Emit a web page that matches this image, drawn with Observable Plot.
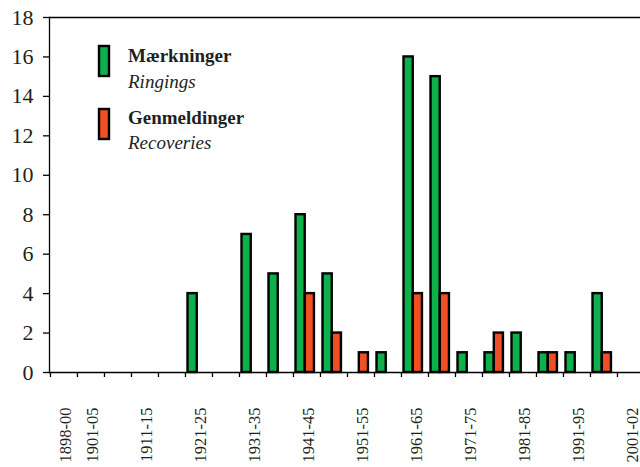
<!DOCTYPE html>
<html>
<head>
<meta charset="utf-8">
<script src="https://cdn.jsdelivr.net/npm/d3@7"></script>
<script src="https://cdn.jsdelivr.net/npm/@observablehq/plot@0.6"></script>
<style>
  html, body { margin: 0; padding: 0; background: #fff; }
  #chart { width: 640px; height: 467px; }
</style>
</head>
<body>
<div id="chart"></div>
<script>
// ---- data ----
const categories = ["1898-00","1901-05","1906-10","1911-15","1916-20","1921-25","1926-30","1931-35","1936-40","1941-45","1946-50","1951-55","1956-60","1961-65","1966-70","1971-75","1976-80","1981-85","1986-90","1991-95","1996-00","2001-02"];
const ringings   = [0,0,0,0,0,4,0,7,5,8,5,0,1,16,15,1,1,2,1,1,4,0];
const recoveries = [0,0,0,0,0,0,0,0,0,4,2,1,0,4,4,0,2,0,1,0,1,0];
const seriesNames   = ["Mærkninger", "Genmeldinger"];
const seriesNamesEn = ["Ringings", "Recoveries"];
const yTicks = [0,2,4,6,8,10,12,14,16,18];
const labelTicks = categories.filter((c, i) => i === 0 || i % 2 === 1);

// ---- style ----
const GREEN = "#0DB04B", RED = "#F04E23", INK = "#231F20";
const FONT = "'Liberation Serif', 'Times New Roman', serif";
const x0 = 49, x1 = 644.3;
const bw = (x1 - x0) / categories.length;

const greenData = categories.map((c, i) => ({period: c, value: ringings[i]})).filter(d => d.value > 0);
const redData = categories.map((c, i) => ({period: c, value: recoveries[i]})).filter(d => d.value > 0);

const plot = Plot.plot({
  width: 640,
  height: 467,
  marginLeft: 49,
  marginRight: 0,
  marginTop: 17,
  marginBottom: 95,
  style: {fontFamily: FONT, color: INK, background: "white"},
  x: {type: "band", domain: categories, range: [x0, x1], padding: 0},
  y: {domain: [0, 18]},
  marks: [
    Plot.barY(greenData, {x: "period", y: "value", fill: GREEN, stroke: "#000", strokeWidth: 2.4,
      insetLeft: 2.5, insetRight: bw - 11.8}),
    Plot.barY(redData, {x: "period", y: "value", fill: RED, stroke: "#000", strokeWidth: 2.4,
      insetLeft: 11.8, insetRight: bw - 21}),
    Plot.axisY({ticks: yTicks, tickSize: 6, tickPadding: 10, fontSize: 22, stroke: "#000", strokeWidth: 1.3, label: null, color: INK}),
    Plot.axisX({tickSize: 5, tickFormat: () => "", dx: -bw / 2, label: null, stroke: "#000", strokeWidth: 1.3}),
    Plot.axisX({ticks: labelTicks, tickSize: 0, tickPadding: 35, tickRotate: -90, fontSize: 16.5, dx: 2, label: null}),
    Plot.ruleY([0], {stroke: "#000", strokeWidth: 1.3}),
    Plot.ruleY([18], {stroke: "#000", strokeWidth: 1.3}),
    Plot.frame({anchor: "left", stroke: "#000", strokeWidth: 1.3})
  ]
});

// ---- legend (inside plot area) ----
const svg = d3.select(plot);
const lg = svg.append("g")
  .attr("font-family", FONT)
  .attr("text-anchor", "start")
  .attr("fill", INK);
const swatchColors = [GREEN, RED];
const swatchTops = [46, 109];
const nameBase = [62, 124];
const enBase = [88, 149];
seriesNames.forEach((name, i) => {
  lg.append("rect").attr("x", 99).attr("y", swatchTops[i]).attr("width", 10).attr("height", 30)
    .attr("fill", swatchColors[i]).attr("stroke", "#000").attr("stroke-width", 2.4);
  lg.append("text").attr("x", 128).attr("y", nameBase[i]).attr("font-size", 19).attr("font-weight", "bold")
    .attr("text-anchor", "start").text(name);
  lg.append("text").attr("x", 128).attr("y", enBase[i]).attr("font-size", 19).attr("font-style", "italic")
    .attr("text-anchor", "start").text(seriesNamesEn[i]);
});

document.getElementById("chart").appendChild(plot);
</script>
</body>
</html>
